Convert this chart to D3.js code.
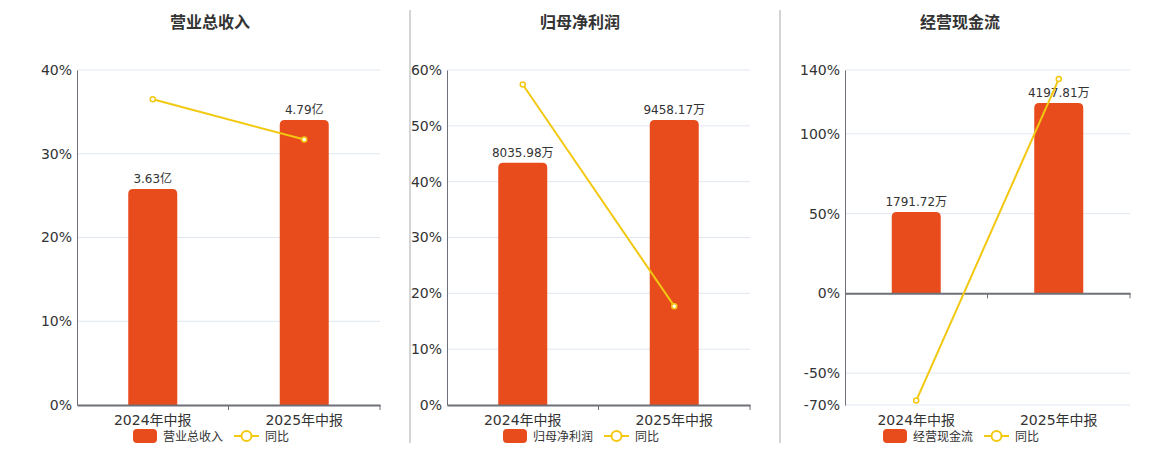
<!DOCTYPE html>
<html><head><meta charset="utf-8">
<script src="https://cdn.jsdelivr.net/npm/d3@7"></script>
<style>body{margin:0;background:#fff}svg{display:block}</style>
</head><body>
<svg id="c" width="1160" height="450"></svg>
<script>
const categories = ["2024年中报", "2025年中报"];
const titles = ["营业总收入", "归母净利润", "经营现金流"];
const barValues1 = [3.63, 4.79];
const barValues2 = [8035.98, 9458.17];
const barValues3 = [1791.72, 4197.81];
const barLabels1 = ["3.63亿", "4.79亿"];
const barLabels2 = ["8035.98万", "9458.17万"];
const barLabels3 = ["1791.72万", "4197.81万"];
const yoy1 = [36.5, 31.7];
const yoy2 = [57.4, 17.70];
const yoy3 = [-67.2, 134.29];
const yTicks1 = [0, 10, 20, 30, 40];
const yTicks2 = [0, 10, 20, 30, 40, 50, 60];
const yTicks3 = [-70, -50, 0, 50, 100, 140];
const barAxisMax = [5.63, 11117, 4927];
const legendLine = "同比";

const panels = [
  {title: titles[0], bars: barValues1, labels: barLabels1, yoy: yoy1, ticks: yTicks1, barMax: barAxisMax[0], left: 77, right: 380, center: 210},
  {title: titles[1], bars: barValues2, labels: barLabels2, yoy: yoy2, ticks: yTicks2, barMax: barAxisMax[1], left: 447, right: 750, center: 580},
  {title: titles[2], bars: barValues3, labels: barLabels3, yoy: yoy3, ticks: yTicks3, barMax: barAxisMax[2], left: 845, right: 1130, center: 960}
];

const BAR = "#E84B1C", LINE = "#F2C811", TXT = "#333", AX = "#6E7079", GRID = "#E0E6F1";
const FONT = "'DejaVu Sans','Noto Sans CJK SC',sans-serif";
const svg = d3.select("#c");
const plotTop = 70, plotBottom = 405;

// separators
[410, 780].forEach(x => svg.append("line").attr("x1", x).attr("x2", x).attr("y1", 10).attr("y2", 443)
  .attr("stroke", "#aaa").attr("stroke-width", 1));

panels.forEach(p => {
  const g = svg.append("g");
  const yMin = d3.min(p.ticks), yMax = d3.max(p.ticks);
  const y = d3.scaleLinear().domain([yMin, yMax]).range([plotBottom, plotTop]);
  const yb = d3.scaleLinear().domain([yMin / yMax * p.barMax, p.barMax]).range([plotBottom, plotTop]);
  const x = d3.scaleBand().domain(categories).range([p.left, p.right]);
  const bw = 49;
  const zeroY = y(0);

  g.append("text").attr("x", p.center).attr("y", 28).attr("text-anchor", "middle")
    .attr("font-family", FONT).attr("font-size", 16).attr("font-weight", "bold").attr("fill", TXT).text(p.title);

  // grid
  g.selectAll(".grid").data(p.ticks.filter(t => t !== 0)).join("line")
    .attr("x1", p.left).attr("x2", p.right).attr("y1", d => y(d)).attr("y2", d => y(d))
    .attr("stroke", GRID).attr("stroke-width", 1);

  // y axis
  const yAxis = d3.axisLeft(y).tickValues(p.ticks).tickFormat(d => d + "%").tickSize(0).tickPadding(5);
  const ya = g.append("g").attr("transform", `translate(${p.left},0)`).call(yAxis);
  ya.select(".domain").attr("stroke", AX).attr("stroke-width", 1);
  ya.selectAll("text").attr("font-family", FONT).attr("font-size", 14).attr("fill", TXT);

  // bars
  g.selectAll(".bar").data(p.bars).join("path")
    .attr("fill", BAR)
    .attr("d", (d, i) => {
      const cx = x(categories[i]) + x.bandwidth() / 2;
      const x0 = cx - bw / 2, x1 = cx + bw / 2, yt = yb(d), r = 5;
      return `M${x0},${zeroY}V${yt + r}Q${x0},${yt} ${x0 + r},${yt}H${x1 - r}Q${x1},${yt} ${x1},${yt + r}V${zeroY}Z`;
    });
  g.selectAll(".lbl").data(p.bars).join("text")
    .attr("x", (d, i) => x(categories[i]) + x.bandwidth() / 2)
    .attr("y", d => yb(d) - 6)
    .attr("text-anchor", "middle").attr("font-family", FONT).attr("font-size", 12).attr("fill", TXT)
    .text((d, i) => p.labels[i]);

  // x axis at zero
  const xAxis = d3.axisBottom(x).tickSize(0).tickPadding(0).tickFormat(() => "");
  const xa = g.append("g").attr("transform", `translate(0,${zeroY})`).call(xAxis);
  xa.select(".domain").attr("stroke", AX).attr("stroke-width", 2);
  const bounds = [p.left + x.bandwidth(), p.right];
  g.selectAll(".tk").data(bounds).join("line")
    .attr("x1", d => d).attr("x2", d => d).attr("y1", zeroY).attr("y2", zeroY + 5)
    .attr("stroke", AX).attr("stroke-width", 1);
  g.selectAll(".xl").data(categories).join("text")
    .attr("x", d => x(d) + x.bandwidth() / 2).attr("y", 425)
    .attr("text-anchor", "middle").attr("font-family", FONT).attr("font-size", 14).attr("fill", TXT).text(d => d);

  // line
  const line = d3.line().x((d, i) => x(categories[i]) + x.bandwidth() / 2).y(d => y(d));
  g.append("path").datum(p.yoy).attr("d", line).attr("fill", "none").attr("stroke", LINE).attr("stroke-width", 2);
  g.selectAll(".pt").data(p.yoy).join("circle")
    .attr("cx", (d, i) => x(categories[i]) + x.bandwidth() / 2).attr("cy", d => y(d)).attr("r", 2.5)
    .attr("fill", "#fff").attr("stroke", LINE).attr("stroke-width", 1.5);

  // legend
  const lx = p.center - 77;
  g.append("rect").attr("x", lx).attr("y", 429).attr("width", 24).attr("height", 14).attr("rx", 4).attr("fill", BAR);
  g.append("text").attr("x", lx + 30).attr("y", 441).attr("font-family", FONT).attr("font-size", 12).attr("fill", TXT).text(p.title);
  const l2 = lx + 101;
  g.append("line").attr("x1", l2).attr("x2", l2 + 25).attr("y1", 436).attr("y2", 436).attr("stroke", LINE).attr("stroke-width", 2);
  g.append("circle").attr("cx", l2 + 12.5).attr("cy", 436).attr("r", 5).attr("fill", "#fff").attr("stroke", LINE).attr("stroke-width", 2);
  g.append("text").attr("x", l2 + 31).attr("y", 441).attr("font-family", FONT).attr("font-size", 12).attr("fill", TXT).text(legendLine);
});
</script>
</body></html>
